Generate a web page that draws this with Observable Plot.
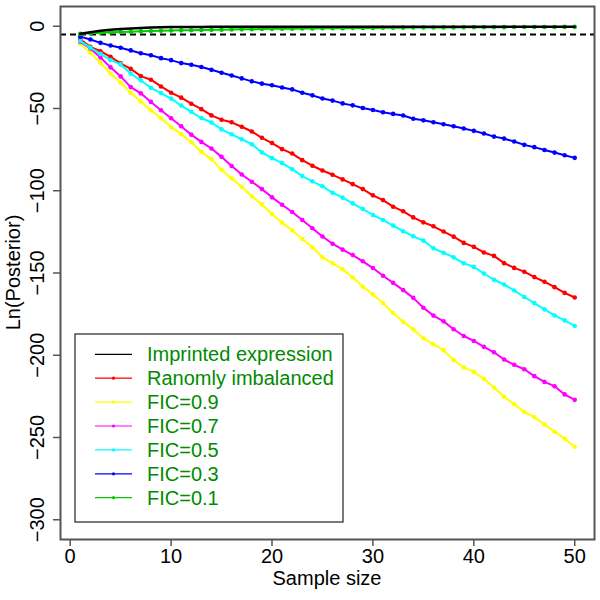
<!DOCTYPE html>
<html><head><meta charset="utf-8">
<script src="https://cdn.jsdelivr.net/npm/d3@7"></script>
<script src="https://cdn.jsdelivr.net/npm/@observablehq/plot@0.6"></script>
<style>body{margin:0;background:#fff} #chart{width:600px;height:600px}</style>
</head><body><div id="chart"></div>
<script>
const sampleSize = [1,2,3,4,5,6,7,8,9,10,11,12,13,14,15,16,17,18,19,20,21,22,23,24,25,26,27,28,29,30,31,32,33,34,35,36,37,38,39,40,41,42,43,44,45,46,47,48,49,50];

const imprinted = [-4.6,-3.6,-2.8,-2.2,-1.7,-1.3,-1.0,-0.8,-0.6,-0.5,-0.45,-0.4,-0.4,-0.35,-0.35,-0.3,-0.3,-0.3,-0.3,-0.3,-0.3,-0.3,-0.3,-0.3,-0.3,-0.3,-0.3,-0.3,-0.3,-0.3,-0.3,-0.3,-0.3,-0.3,-0.3,-0.3,-0.3,-0.3,-0.3,-0.3,-0.3,-0.3,-0.3,-0.3,-0.3,-0.3,-0.3,-0.3,-0.3,-0.3];
const randomlyImbalanced = [-8,-12.5,-15.2,-18.6,-22.6,-25.9,-30.3,-32.5,-36.6,-40.4,-43.4,-47.1,-50.4,-54.2,-56.8,-58.4,-61.1,-64.0,-67.8,-71.0,-74.7,-77.4,-81.4,-84.8,-87.7,-90.3,-93.1,-96.0,-99.0,-102.8,-105.7,-109.7,-112.5,-116.2,-119.2,-121.6,-124.8,-127.9,-131.7,-134.1,-137.5,-139.6,-144.0,-146.9,-149.2,-152.5,-155.3,-158.6,-162.1,-164.9];
const fic09 = [-10.5,-16.2,-22.2,-28.7,-34.3,-40.4,-45.8,-51.1,-55.9,-61.3,-65.6,-70.5,-76.4,-80.8,-87.3,-92.5,-97.6,-103.4,-108.3,-114.1,-119.4,-124.2,-129.3,-134.4,-140.4,-144.1,-147.7,-152.7,-158.4,-163.0,-168.3,-174.3,-179.6,-184.2,-189.7,-193.3,-196.9,-203.0,-207.4,-210.1,-214.3,-219.6,-225.2,-229.7,-234.5,-237.6,-242.0,-246.5,-250.7,-255.6];
const fic07 = [-9.5,-13.5,-19,-25,-30.5,-37,-40.8,-46.0,-51.1,-55.9,-60.8,-65.9,-70.3,-74.3,-79.4,-85.0,-90.1,-94.5,-99.0,-104.0,-108.5,-112.9,-117.8,-122.8,-127.8,-132.2,-135.8,-139.1,-142.9,-147.0,-151.7,-156.0,-160.4,-165.1,-171.1,-175.9,-179.4,-184.2,-188.3,-191.3,-194.9,-198.2,-202.6,-205.8,-208.5,-212.7,-216.2,-218.8,-223.8,-227.1];
const fic05 = [-9,-13,-16.8,-20.6,-23.2,-28.7,-32.9,-37.4,-40.6,-44.0,-48.2,-52.0,-55.8,-58.5,-62.7,-65.7,-68.7,-71.7,-76.7,-80.2,-83.2,-86.9,-91.1,-94.3,-97.3,-101.2,-104.2,-107.7,-111.1,-114.7,-117.8,-121.2,-124.6,-127.7,-130.3,-135.0,-137.7,-140.5,-144.1,-146.3,-150.3,-154.1,-157.0,-160.6,-164.6,-168.3,-172.1,-175.8,-178.8,-182.2];
const fic03 = [-6.3,-8.1,-10.1,-11.7,-13.1,-14.7,-16.4,-17.6,-19.4,-20.6,-22.4,-23.4,-24.8,-26.5,-28.3,-29.9,-31.7,-33.5,-34.9,-35.9,-37.2,-38.4,-40.4,-42.0,-43.9,-45.2,-46.9,-48.1,-49.7,-50.9,-52.3,-53.3,-54.3,-56.2,-57.2,-58.4,-59.6,-60.8,-62.2,-63.6,-65.2,-67.1,-68.3,-70.1,-72.1,-73.5,-75.2,-76.8,-78.4,-80.0];
const fic01 = [-4.6,-4.3,-4.0,-3.7,-3.5,-3.3,-3.1,-2.9,-2.7,-2.6,-2.5,-2.4,-2.3,-2.2,-2.1,-2.0,-1.9,-1.8,-1.7,-1.6,-1.5,-1.45,-1.4,-1.3,-1.25,-1.2,-1.15,-1.1,-1.05,-1.0,-0.95,-0.9,-0.85,-0.8,-0.8,-0.75,-0.7,-0.7,-0.65,-0.6,-0.6,-0.55,-0.55,-0.5,-0.5,-0.5,-0.45,-0.45,-0.4,-0.4];

const threshold = -5;
const xTicks = [0,10,20,30,40,50];
const yTicks = [-300,-250,-200,-150,-100,-50,0];

const seriesNames = ["Imprinted expression","Ranomly imbalanced","FIC=0.9","FIC=0.7","FIC=0.5","FIC=0.3","FIC=0.1"];
const seriesColors = ["#000000","#FF0000","#FFFF00","#FF00FF","#00FFFF","#0000FF","#00CC00"];
const seriesValues = [imprinted, randomlyImbalanced, fic09, fic07, fic05, fic03, fic01];
const seriesDots = [false,true,true,true,true,true,true];

const rows = [];
seriesNames.forEach((name, i) => {
  sampleSize.forEach((n, j) => rows.push({series: name, n, v: seriesValues[i][j]}));
});

const drawOrder = ["Ranomly imbalanced","FIC=0.9","FIC=0.7","FIC=0.5","FIC=0.3","FIC=0.1","Imprinted expression"];
const seriesMarks = [];
drawOrder.forEach(name => {
  const i = seriesNames.indexOf(name);
  const data = rows.filter(r => r.series === name);
  seriesMarks.push(Plot.line(data, {x: "n", y: "v", stroke: seriesColors[i], strokeWidth: seriesDots[i] ? 2 : 2.5}));
  if (seriesDots[i]) seriesMarks.push(Plot.dot(data, {x: "n", y: "v", fill: seriesColors[i], r: 2.3, stroke: "none"}));
});

const fmt = d => d < 0 ? "\u2212" + Math.abs(d) : String(d);
const font = "'Liberation Sans', Arial, Helvetica, sans-serif";
const fs = 20;

const chart = Plot.plot({
  width: 600, height: 600,
  marginLeft: 60, marginRight: 6, marginTop: 6, marginBottom: 61,
  style: {fontFamily: font, background: "white", color: "black"},
  x: {domain: [-0.96, 51.96]},
  y: {domain: [-312, 12]},
  marks: [
    Plot.ruleY([threshold], {stroke: "black", strokeWidth: 2, strokeDasharray: "6,4"}),
    ...seriesMarks,
    Plot.frame({stroke: "#555", strokeWidth: 2}),
    Plot.axisX({ticks: xTicks, tickSize: 7, tickPadding: 2, fontSize: fs, label: null, stroke: "#555", strokeWidth: 1.5, tickFormat: fmt}),
    Plot.axisY({ticks: yTicks, tickSize: 7, tickFormat: () => "", label: null, stroke: "#555", strokeWidth: 1.5}),
    Plot.text(yTicks, {y: d => d, text: fmt, frameAnchor: "left", dx: -17, rotate: -90, fontSize: fs, lineAnchor: "bottom", textAnchor: "middle", fill: "black"})
  ]
});
document.getElementById("chart").appendChild(chart);

const svg = d3.select(chart);
svg.append("text").attr("transform", "translate(20,272.5) rotate(-90)")
  .attr("text-anchor", "middle").attr("font-size", fs).attr("font-family", font).attr("fill", "black")
  .text("Ln(Posterior)");
svg.append("text").attr("x", 327).attr("y", 585)
  .attr("text-anchor", "middle").attr("font-size", fs).attr("font-family", font).attr("fill", "black")
  .text("Sample size");

// Legend (inside the plot, bottom-left)
const lg = svg.append("g");
lg.append("rect").attr("x", 75).attr("y", 334).attr("width", 268).attr("height", 188)
  .attr("fill", "white").attr("stroke", "#333").attr("stroke-width", 1.3);
seriesNames.forEach((name, i) => {
  const cy = 354.3 + i * 23.9;
  lg.append("line").attr("x1", 95).attr("x2", 132).attr("y1", cy).attr("y2", cy)
    .attr("stroke", seriesColors[i]).attr("stroke-width", 1.2);
  if (seriesDots[i]) lg.append("circle").attr("cx", 113.5).attr("cy", cy).attr("r", 1.6).attr("fill", seriesColors[i]);
  lg.append("text").attr("x", 147).attr("y", cy).attr("dy", "0.35em").attr("text-anchor", "start")
    .attr("font-size", fs).attr("font-family", font).attr("fill", "#008B00").text(name);
});
</script>
</body></html>
